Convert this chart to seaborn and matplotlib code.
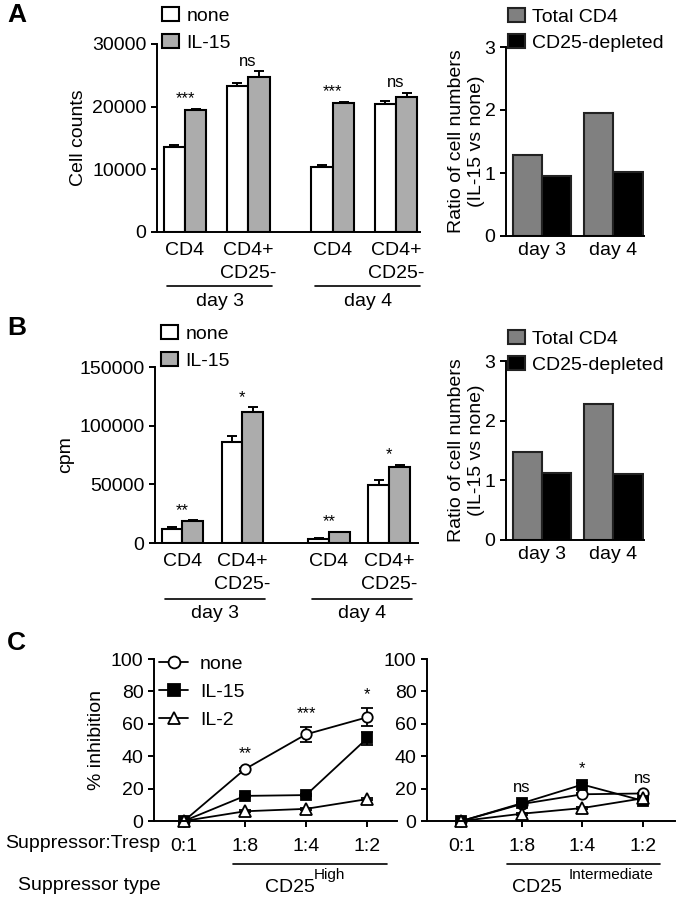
import numpy as np
import pandas as pd
import matplotlib
matplotlib.use('Agg')
import matplotlib.pyplot as plt
import matplotlib.transforms as mtransforms
from matplotlib.patches import Patch
from matplotlib.lines import Line2D
import seaborn as sns


# bar groups for panels A and B
groups = ["CD4", "CD4+\nCD25-", "CD4", "CD4+\nCD25-"]
days = ["day 3", "day 3", "day 4", "day 4"]
treatments = ["none", "IL-15"]

# A: cell counts
counts_none = [13600, 23300, 10300, 20500]
counts_none_err = [350, 500, 350, 450]
counts_il15 = [19450, 24750, 20600, 21600]
counts_il15_err = [250, 1000, 200, 650]
counts_stars = ["***", "ns", "***", "ns"]

# B: proliferation (cpm)
cpm_none = [11600, 86200, 3700, 49700]
cpm_none_err = [2000, 5300, 800, 4400]
cpm_il15 = [18900, 111600, 9000, 64400]
cpm_il15_err = [800, 4400, 800, 2400]
cpm_stars = ["**", "*", "**", "*"]

# ratio of IL-15 vs none
ratio_days = ["day 3", "day 4"]
ratio_subsets = ["Total CD4", "CD25-depleted"]
ratio_a_total = [1.28, 1.96]
ratio_a_depleted = [0.95, 1.02]
ratio_b_total = [1.48, 2.28]
ratio_b_depleted = [1.13, 1.10]

# C: % inhibition
supp_ratios = ["0:1", "1:8", "1:4", "1:2"]
cytokines = ["none", "IL-15", "IL-2"]
high_none = [0, 32, 53.5, 64]
high_none_err = [0, 1, 4.5, 5.5]
high_il15 = [0, 15.5, 16, 51]
high_il15_err = [0, 0.5, 0.5, 4]
high_il2 = [0, 6, 7.5, 13.5]
high_il2_err = [0, 0.5, 0.5, 0.5]
high_stars = ["", "**", "***", "*"]

int_none = [0, 10.5, 16.5, 17]
int_none_err = [0, 0.5, 0.5, 0.5]
int_il15 = [0, 11, 22.5, 12.5]
int_il15_err = [0, 1, 1, 1]
int_il2 = [0, 4.5, 8, 14]
int_il2_err = [0, 0.5, 0.5, 0.5]
int_stars = ["", "ns", "*", "ns"]

bar_colors = {"none": "white", "IL-15": "#acacac"}
ratio_colors = {"Total CD4": "#808080", "CD25-depleted": "black"}

sns.set_theme(style="ticks")
plt.rcParams["font.family"] = ["Liberation Sans", "DejaVu Sans"]
plt.rcParams.update({
    "font.size": 14, "axes.labelsize": 14,
    "xtick.labelsize": 14, "ytick.labelsize": 14,
    "axes.linewidth": 1.4, "axes.edgecolor": "black",
    "xtick.major.width": 1.4, "ytick.major.width": 1.4,
    "ytick.major.size": 4, "xtick.major.size": 4,
    "text.color": "black", "axes.labelcolor": "black",
    "xtick.color": "black", "ytick.color": "black",
})

W, H = 680, 900
fig = plt.figure(figsize=(W / 100, H / 100), dpi=100)


def place(x0, y0, x1, y1):
    # pixel box -> figure axes
    return fig.add_axes([x0 / W, 1 - y1 / H, (x1 - x0) / W, (y1 - y0) / H])


def ftext(x, y, s, **kw):
    fig.text(x / W, 1 - y / H, s, **kw)


def below_axis(ax, dy):
    return mtransforms.offset_copy(ax.get_xaxis_transform(), fig=fig, y=-dy, units="dots")


def bar_panel(ax, none, none_err, il15, il15_err, stars, ymax, ystep, ylabel, gap, width, xlim):
    # gap = distance between last day-3 group and first day-4 group
    pos = np.arange(len(groups)) + np.array([0, 0, gap - 1, gap - 1])
    df = pd.DataFrame({
        "pos": np.tile(pos, 2),
        "treatment": np.repeat(treatments, len(groups)),
        "value": none + il15,
    })
    sns.barplot(data=df, x="pos", y="value", hue="treatment", hue_order=treatments,
                palette=bar_colors, native_scale=True, width=width, edgecolor="black",
                linewidth=1.5, errorbar=None, legend=False, ax=ax)
    for bars, err in zip(ax.containers, [none_err, il15_err]):
        xs = [b.get_x() + b.get_width() / 2 for b in bars]
        tops = [b.get_height() for b in bars]
        ax.errorbar(xs, tops, yerr=[np.zeros(len(err)), err], fmt="none", ecolor="black",
                    elinewidth=1.4, capsize=3.5, capthick=1.4, zorder=3)
    for i, s in enumerate(stars):
        top = max(none[i] + none_err[i], il15[i] + il15_err[i])
        ax.annotate(s, (pos[i], top), xytext=(0, 1.5), textcoords="offset points",
                    ha="center", va="bottom", fontsize=12)
    ax.set_ylim(0, ymax)
    ax.set_yticks(np.arange(0, ymax + 1, ystep))
    ax.set_xlim(*xlim)
    ax.set_xticks(pos, groups, va="top")
    for lab in ax.get_xticklabels():
        lab.set_linespacing(1.45)
    ax.tick_params(axis="x", length=0, pad=7)
    ax.set_xlabel("")
    ax.set_ylabel(ylabel)
    sns.despine(ax=ax)
    return pos


def day_lines(ax, pos, line_dy, text_dy):
    for d in ["day 3", "day 4"]:
        idx = [i for i, v in enumerate(days) if v == d]
        x0, x1 = pos[idx[0]] - 0.28, pos[idx[-1]] + 0.38
        ax.plot([x0, x1], [0, 0], color="black", lw=1.2, clip_on=False,
                transform=below_axis(ax, line_dy))
        ax.text((x0 + x1) / 2, 0, d, ha="center", va="center", fontsize=14,
                transform=below_axis(ax, text_dy))


def bar_legend(ax, x, y):
    handles = [Patch(facecolor=bar_colors[t], edgecolor="black", lw=1.5, label=t) for t in treatments]
    ax.legend(handles=handles, loc="upper left", bbox_to_anchor=(x / W, 1 - y / H),
              bbox_transform=fig.transFigure, frameon=False, borderpad=0, borderaxespad=0,
              handlelength=0.85, handleheight=0.75, handletextpad=0.4, labelspacing=0.45, fontsize=14)


def ratio_panel(ax, total, depleted, legend_y):
    df = pd.DataFrame({
        "day": ratio_days * 2,
        "subset": np.repeat(ratio_subsets, len(ratio_days)),
        "ratio": total + depleted,
    })
    sns.barplot(data=df, x="day", y="ratio", hue="subset", hue_order=ratio_subsets,
                palette=ratio_colors, width=0.82, edgecolor="#222222", linewidth=1.5,
                legend=False, ax=ax)
    ax.set_ylim(0, 3)
    ax.set_yticks([0, 1, 2, 3])
    ax.set_xlim(-0.507, 1.43)
    ax.tick_params(axis="x", length=0, pad=4)
    ax.set_xlabel("")
    ax.set_ylabel("Ratio of cell numbers\n(IL-15 vs none)", linespacing=1.2, labelpad=0)
    sns.despine(ax=ax)
    handles = [Patch(facecolor=ratio_colors[s], edgecolor="#222222", lw=1.5, label=s) for s in ratio_subsets]
    ax.legend(handles=handles, loc="upper left", bbox_to_anchor=(508 / W, 1 - legend_y / H),
              bbox_transform=fig.transFigure, frameon=False, borderpad=0, borderaxespad=0,
              handlelength=0.85, handleheight=0.75, handletextpad=0.4, labelspacing=0.4, fontsize=14)


marker_style = {
    "none": dict(markers="o", markerfacecolor="white", markersize=7.5),
    "IL-15": dict(markers="s", markerfacecolor="black", markersize=7),
    "IL-2": dict(markers="^", markerfacecolor="white", markersize=8),
}


def inhibition_panel(ax, series, stars, xlim):
    x = np.arange(len(supp_ratios))
    for name, (vals, errs) in zip(cytokines, series):
        ax.errorbar(x, vals, yerr=errs, fmt="none", ecolor="black", elinewidth=1.3,
                    capsize=4, capthick=1.3, zorder=1.5)
        sns.pointplot(x=supp_ratios, y=vals, color="black", linewidth=1.3,
                      markeredgewidth=1.3, markeredgecolor="black", errorbar=None,
                      ax=ax, **marker_style[name])
    for line in ax.lines:
        line.set_clip_on(False)
    for i, s in enumerate(stars):
        if s:
            top = max(v[0][i] + v[1][i] for v in series)
            ax.annotate(s, (i, top), xytext=(0, 10), textcoords="offset points",
                        ha="center", va="center", fontsize=12)
    ax.set_ylim(0, 100)
    ax.set_yticks(range(0, 101, 20))
    ax.set_xlim(*xlim)
    ax.tick_params(axis="x", length=4, pad=8)
    ax.set_xlabel("")
    sns.despine(ax=ax)


# ---- panel A ----
ax_a = place(157, 44, 420, 232)
pos_a = bar_panel(ax_a, counts_none, counts_none_err, counts_il15, counts_il15_err, counts_stars,
                  30000, 10000, "Cell counts", gap=1.34, width=0.68, xlim=(-0.443, 3.72))
day_lines(ax_a, pos_a, 54, 70)
bar_legend(ax_a, 162, 7)

ax_ar = place(506, 47, 644, 236)
ratio_panel(ax_ar, ratio_a_total, ratio_a_depleted, 8)

# ---- panel B ----
ax_b = place(155, 367, 418, 543)
pos_b = bar_panel(ax_b, cpm_none, cpm_none_err, cpm_il15, cpm_il15_err, cpm_stars,
                  150000, 50000, "cpm", gap=1.44, width=0.69, xlim=(-0.454, 3.92))
day_lines(ax_b, pos_b, 56, 71)
bar_legend(ax_b, 161, 325)

ax_br = place(506, 361, 644, 540)
ratio_panel(ax_br, ratio_b_total, ratio_b_depleted, 330)

# ---- panel C ----
ax_c1 = place(154, 659, 397, 821)
inhibition_panel(ax_c1, [(high_none, high_none_err), (high_il15, high_il15_err), (high_il2, high_il2_err)],
                 high_stars, (-0.49, 3.49))
ax_c1.set_ylabel("% inhibition")
leg_handles = [
    Line2D([], [], color="black", lw=1.3, marker=marker_style[n]["markers"],
           markerfacecolor=marker_style[n]["markerfacecolor"], markeredgecolor="black",
           markeredgewidth=1.3, markersize=marker_style[n]["markersize"] + 1, label=n)
    for n in cytokines
]
ax_c1.legend(handles=leg_handles, loc="upper left", bbox_to_anchor=(159 / W, 1 - 655 / H),
             bbox_transform=fig.transFigure, frameon=False, borderpad=0, borderaxespad=0,
             handlelength=1.5, handletextpad=0.6, labelspacing=0.55, fontsize=14)

ax_c2 = place(427, 659, 675, 821)
inhibition_panel(ax_c2, [(int_none, int_none_err), (int_il15, int_il15_err), (int_il2, int_il2_err)],
                 int_stars, (-0.57, 3.53))

for ax, x0, x1 in [(ax_c1, 0.8, 3.33), (ax_c2, 0.75, 3.29)]:
    ax.plot([x0, x1], [0, 0], color="black", lw=1.2, clip_on=False, transform=below_axis(ax, 43))

ftext(5, 843, "Suppressor:Tresp", ha="left", va="center", fontsize=14)
ftext(18, 886, "Suppressor type", ha="left", va="center", fontsize=14)
ftext(290, 888, "CD25", ha="center", va="center", fontsize=14)
ftext(314, 875, "High", ha="left", va="center", fontsize=11)
ftext(537, 888, "CD25", ha="center", va="center", fontsize=14)
ftext(569, 875, "Intermediate", ha="left", va="center", fontsize=11)

# panel letters
ftext(7, 15, "A", ha="left", va="center", fontsize=19, fontweight="bold")
ftext(7, 328, "B", ha="left", va="center", fontsize=19, fontweight="bold")
ftext(7, 643, "C", ha="left", va="center", fontsize=19, fontweight="bold")

fig.savefig("out.png", dpi=100)
